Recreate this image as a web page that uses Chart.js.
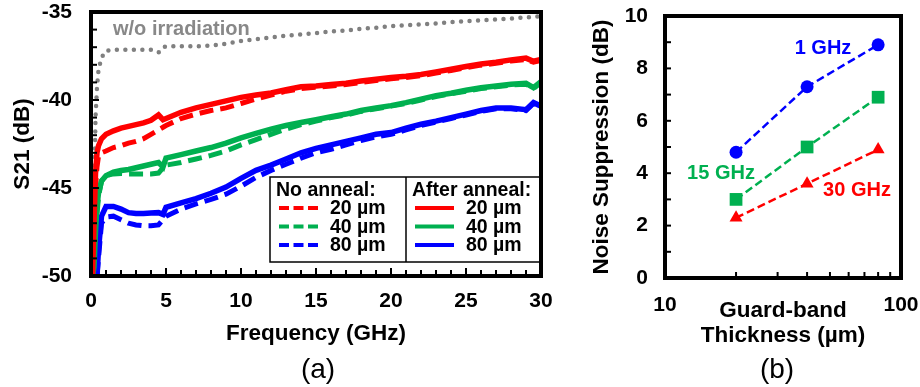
<!DOCTYPE html>
<html>
<head>
<meta charset="utf-8">
<script src="https://cdn.jsdelivr.net/npm/chart.js@4"></script>
<style>
  body { margin: 0; background: #fff; }
  #wrap { position: relative; width: 920px; height: 387px; }
  canvas { position: absolute; top: 0; }
  #chartA { left: 0; }
  #chartB { left: 560px; }
</style>
</head>
<body>
<div id="wrap">
  <canvas id="chartA" width="560" height="387"></canvas>
  <canvas id="chartB" width="360" height="387"></canvas>
</div>
<script>
// (a) S21 vs frequency
const freqGHz = [0.1, 0.2, 0.3, 0.4, 0.5, 0.7, 1, 1.5, 2, 2.5, 3, 3.5, 4, 4.5, 4.8, 5,
  6, 7, 8, 9, 10, 11, 12, 13, 14, 15, 16, 17, 18, 19, 20, 21, 22, 23, 24, 25, 26, 27, 28, 29, 29.5, 30];

const s21NoIrr = [-50, -46, -41, -39.3, -38.3, -37.6, -37.2, -37.15, -37.15, -37.15, -37.15, -37.15, -37.15, -37.3, -37.0, -36.95,
  -36.95, -36.95, -36.9, -36.8, -36.65, -36.55, -36.45, -36.35, -36.28, -36.2, -36.1, -36.05, -35.95, -35.9,
  -35.8, -35.75, -35.7, -35.65, -35.58, -35.52, -35.48, -35.42, -35.38, -35.3, -35.28, -35.22];

const s21After20 = [-50, -47, -44.2, -43.0, -42.6, -42.2, -41.95, -41.75, -41.6, -41.5, -41.4, -41.3, -41.15, -40.85, -41.12, -41.05,
  -40.7, -40.45, -40.25, -40.05, -39.85, -39.72, -39.6, -39.42, -39.25, -39.2, -39.12, -39.05, -38.92, -38.82,
  -38.72, -38.65, -38.55, -38.4, -38.25, -38.1, -37.95, -37.85, -37.72, -37.62, -37.8, -37.7];
const s21After40 = [-50, -49.5, -47.5, -46.0, -45.3, -44.6, -44.3, -44.1, -44.0, -43.95, -43.85, -43.75, -43.65, -43.55, -43.8, -43.3,
  -43.1, -42.9, -42.7, -42.45, -42.15, -41.9, -41.65, -41.45, -41.28, -41.12, -40.95, -40.8, -40.6, -40.45,
  -40.32, -40.15, -39.95, -39.75, -39.62, -39.45, -39.3, -39.2, -39.1, -39.05, -39.3, -38.95];
const s21After80 = [null, null, null, -50, -48.5, -46.6, -46.05, -46.05, -46.2, -46.4, -46.45, -46.45, -46.42, -46.4, -46.5, -46.1,
  -45.85, -45.6, -45.3, -44.95, -44.45, -44.0, -43.7, -43.35, -43.0, -42.75, -42.55, -42.35, -42.15, -41.95,
  -41.85, -41.6, -41.38, -41.2, -41.0, -40.8, -40.6, -40.45, -40.45, -40.55, -40.15, -40.35];

const s21No20 = [-50, -48, -45.0, -43.8, -43.2, -43.0, -42.9, -42.7, -42.6, -42.45, -42.35, -42.2, -41.95, -41.7, -41.55, -41.45,
  -41.05, -40.8, -40.6, -40.45, -40.2, -39.95, -39.72, -39.5, -39.35, -39.28, -39.2, -39.12, -39.0, -38.9,
  -38.8, -38.72, -38.62, -38.47, -38.32, -38.17, -38.02, -37.92, -37.78, -37.7, -37.85, -37.75];
const s21No40 = [-50, -49.8, -48.5, -46.5, -45.5, -44.6, -44.3, -44.2, -44.18, -44.2, -44.2, -44.2, -44.2, -44.15, -43.85, -43.7,
  -43.55, -43.35, -43.15, -42.9, -42.55, -42.25, -41.95, -41.65, -41.4, -41.2, -41.0, -40.85, -40.65, -40.5,
  -40.35, -40.2, -40.0, -39.8, -39.65, -39.5, -39.35, -39.25, -39.15, -39.1, -39.35, -39.0];
const s21No80 = [null, null, null, -50, -49, -47.0, -46.65, -46.6, -46.8, -47.0, -47.1, -47.15, -47.15, -47.1, -46.8, -46.6,
  -46.2, -45.9, -45.65, -45.35, -44.9, -44.4, -44.0, -43.65, -43.3, -43.0, -42.8, -42.55, -42.3, -42.1,
  -41.95, -41.7, -41.45, -41.25, -41.05, -40.85, -40.65, -40.5, -40.5, -40.6, -40.2, -40.4];

// (b) noise suppression vs guard-band thickness
const thicknessUm = [20, 40, 80];
const sup1GHz = [4.8, 7.3, 8.9];
const sup15GHz = [3.0, 5.0, 6.9];
const sup30GHz = [2.3, 3.6, 4.9];

const RED = '#ff0000', GREEN = '#00b050', BLUE = '#0000ff', GREY = '#808080';
const FAMILY = '"Liberation Sans", Arial, sans-serif';
Chart.defaults.font.family = FAMILY;
Chart.defaults.color = '#000';

const tickFont = { size: 21, weight: 'bold', lineHeight: 1.1 };
const titleFont = { size: 22.5, weight: 'bold' };

function pts(xs, ys) {
  return xs.map((x, i) => ({ x: x, y: ys[i] }));
}

// fixed axis sizes, no extra label padding pushed into the layout
function fixBox(w, h) {
  return function (s) {
    if (w) s.width = w;
    if (h) s.height = h;
    s.paddingTop = 0; s.paddingBottom = 0; s.paddingLeft = 0; s.paddingRight = 0;
  };
}

// frame around plot area + inward ticks
const frameTicks = {
  id: 'frameTicks',
  afterDatasetsDraw(chart, args, o) {
    const { ctx, chartArea: a, scales: { x, y } } = chart;
    ctx.save();
    ctx.strokeStyle = '#000';
    ctx.lineWidth = 2;
    o.xTicks.forEach(t => {
      const px = x.getPixelForValue(t[0]);
      ctx.beginPath(); ctx.moveTo(px, a.bottom); ctx.lineTo(px, a.bottom - t[1]); ctx.stroke();
    });
    o.yTicks.forEach(t => {
      const py = y.getPixelForValue(t[0]);
      ctx.beginPath(); ctx.moveTo(a.left, py); ctx.lineTo(a.left + t[1], py); ctx.stroke();
    });
    ctx.lineWidth = 4;
    ctx.strokeRect(a.left, a.top, a.right - a.left, a.bottom - a.top);
    ctx.restore();
  }
};

// extra text (annotations, panel letters)
const notes = {
  id: 'notes',
  afterDraw(chart, args, o) {
    const ctx = chart.ctx;
    ctx.save();
    ctx.textBaseline = 'middle';
    o.items.forEach(n => {
      ctx.font = n.font;
      ctx.fillStyle = n.color;
      ctx.textAlign = n.align || 'center';
      ctx.fillText(n.text, n.x, n.y);
    });
    ctx.restore();
  }
};

// two-column legend box of panel (a)
const legendA = {
  id: 'legendA',
  afterDatasetsDraw(chart) {
    const { ctx, chartArea: a } = chart;
    const L = a.left + 179, T = a.top + 165, R = a.right, B = a.bottom - 14, mid = L + 136;
    ctx.save();
    ctx.fillStyle = '#fff';
    ctx.fillRect(L, T, R - L, B - T);
    ctx.strokeStyle = '#000';
    ctx.lineWidth = 1.5;
    ctx.strokeRect(L, T, R - L, B - T);
    ctx.beginPath(); ctx.moveTo(mid, T); ctx.lineTo(mid, B); ctx.stroke();

    ctx.font = 'bold 19.5px ' + FAMILY;
    ctx.fillStyle = '#000';
    ctx.textBaseline = 'middle';
    ctx.fillText('No anneal:', L + 6, T + 14);
    ctx.fillText('After anneal:', mid + 6, T + 14);

    const cols = [{ g: 'no', x0: L + 9 }, { g: 'after', x0: mid + 9 }];
    cols.forEach(c => {
      chart.data.datasets.filter(d => d.group === c.g).forEach((d, i) => {
        const yy = T + 32 + i * 18.5;
        ctx.strokeStyle = d.borderColor;
        ctx.lineWidth = 4;
        ctx.setLineDash(d.borderDash ? [10, 4.5] : []);
        ctx.beginPath(); ctx.moveTo(c.x0, yy - 1); ctx.lineTo(c.x0 + 39, yy - 1); ctx.stroke();
        ctx.setLineDash([]);
        ctx.fillStyle = '#000';
        ctx.fillText(d.label, c.x0 + 51, yy);
      });
    });
    ctx.restore();
  }
};

function curve(label, ys, color, group, dashed) {
  return {
    label: label,
    group: group,
    data: pts(freqGHz, ys),
    borderColor: color,
    borderWidth: dashed ? 5 : 5.5,
    borderDash: dashed ? [14, 7] : undefined,
    pointRadius: 0,
    tension: 0
  };
}

const aTicksX = [], aTicksY = [];
for (let v = 0; v <= 30; v++) aTicksX.push([v, v % 5 === 0 ? 8 : 6]);
for (let v = -50; v <= -35; v++) aTicksY.push([v, v % 5 === 0 ? 8 : 6]);

new Chart(document.getElementById('chartA'), {
  type: 'line',
  data: {
    datasets: [
      curve('20 µm', s21After20, RED, 'after', false),
      curve('40 µm', s21After40, GREEN, 'after', false),
      curve('80 µm', s21After80, BLUE, 'after', false),
      curve('20 µm', s21No20, RED, 'no', true),
      curve('40 µm', s21No40, GREEN, 'no', true),
      curve('80 µm', s21No80, BLUE, 'no', true),
      {
        label: 'w/o irradiation',
        data: pts(freqGHz, s21NoIrr),
        borderColor: GREY,
        borderWidth: 4.5,
        borderDash: [0, 8.5],
        borderCapStyle: 'round',
        pointRadius: 0,
        tension: 0
      }
    ]
  },
  options: {
    responsive: false,
    animation: false,
    devicePixelRatio: 1,
    layout: { padding: { top: 12, right: 19, left: 0, bottom: 0 } },
    plugins: {
      legend: { display: false },
      tooltip: { enabled: false },
      frameTicks: { xTicks: aTicksX, yTicks: aTicksY },
      notes: {
        items: [
          { text: 'w/o irradiation', x: 113, y: 29, align: 'left', color: '#888888', font: 'bold 20px ' + FAMILY },
          { text: '(a)', x: 318, y: 370, color: '#000', font: '28px ' + FAMILY }
        ]
      }
    },
    scales: {
      x: {
        type: 'linear', min: 0, max: 30,
        grid: { display: false, drawTicks: false },
        border: { display: false },
        ticks: { stepSize: 5, padding: 14, maxRotation: 0, font: tickFont },
        title: { display: true, text: 'Frequency (GHz)', font: titleFont, padding: { top: 0, bottom: 39.5 } },
        afterFit: fixBox(0, 111)
      },
      y: {
        min: -50, max: -35,
        grid: { display: false, drawTicks: false },
        border: { display: false },
        ticks: { stepSize: 5, padding: 19, font: tickFont },
        title: { display: true, text: 'S21 (dB)', font: titleFont, padding: { top: 9, bottom: 0 } },
        afterFit: fixBox(91, 0)
      }
    }
  },
  plugins: [legendA, frameTicks, notes]
});

const bTicksX = [], bTicksY = [];
for (let v = 20; v <= 90; v += 10) bTicksX.push([v, 6]);
for (let v = 1; v < 10; v++) bTicksY.push([v, 6]);

function series(label, ys, color, style, r) {
  return {
    label: label,
    data: pts(thicknessUm, ys),
    borderColor: color,
    backgroundColor: color,
    borderWidth: 2.5,
    borderDash: [8, 4],
    pointStyle: style,
    pointRadius: r,
    pointBorderWidth: 0,
    pointBackgroundColor: color,
    tension: 0
  };
}

new Chart(document.getElementById('chartB'), {
  type: 'line',
  data: {
    datasets: [
      series('1 GHz', sup1GHz, BLUE, 'circle', 6.5),
      series('15 GHz', sup15GHz, GREEN, 'rect', 9),
      series('30 GHz', sup30GHz, RED, 'triangle', 7.5)
    ]
  },
  options: {
    responsive: false,
    animation: false,
    devicePixelRatio: 1,
    layout: { padding: { top: 16, right: 19, left: 0, bottom: 0 } },
    plugins: {
      legend: { display: false },
      tooltip: { enabled: false },
      frameTicks: { xTicks: bTicksX, yTicks: bTicksY },
      notes: {
        items: [
          { text: '1 GHz', x: 263, y: 48, color: BLUE, font: 'bold 20px ' + FAMILY },
          { text: '15 GHz', x: 161, y: 173, color: GREEN, font: 'bold 20px ' + FAMILY },
          { text: '30 GHz', x: 297, y: 190, color: RED, font: 'bold 20px ' + FAMILY },
          { text: '(b)', x: 217, y: 370, color: '#000', font: '28px ' + FAMILY }
        ]
      }
    },
    scales: {
      x: {
        type: 'logarithmic', min: 10, max: 100,
        grid: { display: false, drawTicks: false },
        border: { display: false },
        ticks: {
          padding: 16, maxRotation: 0, autoSkip: false, font: tickFont,
          callback: v => (v === 10 || v === 100) ? String(v) : ''
        },
        title: {
          display: true, text: ['Guard-band', 'Thickness (µm)'],
          font: { size: 22.5, weight: 'bold', lineHeight: 1.1 },
          padding: { top: 0, bottom: 38.9 }
        },
        afterFit: fixBox(0, 109)
      },
      y: {
        min: 0, max: 10,
        grid: { display: false, drawTicks: false },
        border: { display: false },
        ticks: { stepSize: 2, padding: 17, font: tickFont },
        title: { display: true, text: 'Noise Suppression (dB)', font: titleFont, padding: { top: 28.5, bottom: 0 } },
        afterFit: fixBox(105, 0)
      }
    }
  },
  plugins: [frameTicks, notes]
});
</script>
</body>
</html>
